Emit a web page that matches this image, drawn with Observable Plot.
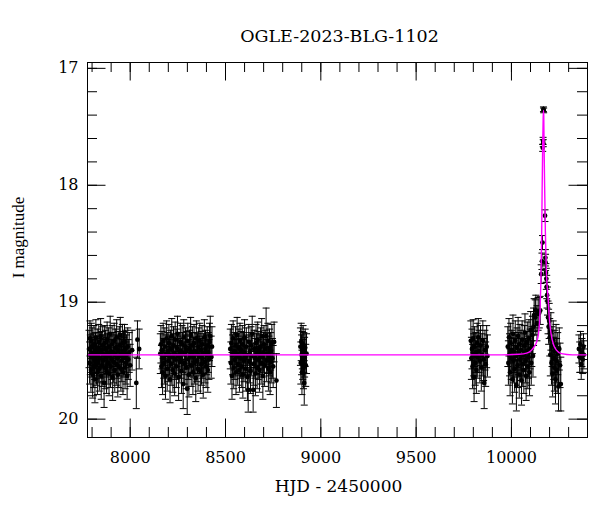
<!DOCTYPE html>
<html><head><meta charset="utf-8">
<script src="https://cdn.jsdelivr.net/npm/d3@7"></script>
<script src="https://cdn.jsdelivr.net/npm/@observablehq/plot@0.6"></script>
<style>html,body{margin:0;padding:0;background:#fff;}#chart{width:600px;height:512px;}</style>
</head><body><div id="chart"></div>
<script>
const title = "OGLE-2023-BLG-1102";
const xLabel = "HJD - 2450000";
const yLabel = "I magnitude";
const xTicks = [8000, 8500, 9000, 9500, 10000];
const yTicks = [17, 18, 19, 20];

// [HJD-2450000, I mag, error]
const season1 = [
[7784,19.40,0.16],[7787,19.52,0.18],[7789,19.31,0.15],[7791,19.45,0.17],[7794,19.58,0.19],[7796,19.33,0.15],
[7798,19.47,0.17],[7801,19.38,0.16],[7803,19.62,0.20],[7806,19.44,0.17],[7808,19.55,0.18],[7810,19.36,0.16],
[7813,19.49,0.17],[7815,19.66,0.20],[7818,19.42,0.16],[7820,19.30,0.15],[7823,19.53,0.18],[7825,19.46,0.17],
[7828,19.60,0.19],[7830,19.39,0.16],[7833,19.51,0.18],[7835,19.34,0.15],[7838,19.57,0.19],[7840,19.43,0.17],
[7843,19.48,0.17],[7845,19.29,0.15],[7848,19.63,0.20],[7850,19.41,0.16],[7853,19.54,0.18],[7856,19.37,0.16],
[7858,19.50,0.18],[7861,19.45,0.17],[7863,19.69,0.21],[7866,19.35,0.15],[7868,19.56,0.18],[7871,19.40,0.16],
[7874,19.47,0.17],[7876,19.59,0.19],[7879,19.32,0.15],[7881,19.44,0.17],[7884,19.52,0.18],[7887,19.38,0.16],
[7889,19.61,0.19],[7892,19.46,0.17],[7895,19.27,0.15],[7897,19.55,0.18],[7900,19.42,0.16],[7903,19.49,0.17],
[7905,19.36,0.16],[7908,19.64,0.20],[7911,19.43,0.17],[7913,19.51,0.18],[7916,19.33,0.15],[7919,19.58,0.19],
[7921,19.45,0.17],[7924,19.39,0.16],[7927,19.53,0.18],[7929,19.30,0.15],[7932,19.48,0.17],[7935,19.62,0.19],
[7937,19.41,0.16],[7940,19.55,0.18],[7943,19.37,0.16],[7946,19.46,0.17],[7948,19.28,0.15],[7951,19.57,0.19],
[7954,19.44,0.17],[7956,19.50,0.18],[7959,19.35,0.16],[7962,19.60,0.19],[7965,19.42,0.17],[7967,19.47,0.17],
[7970,19.34,0.15],[7973,19.56,0.18],[7976,19.40,0.16],[7978,19.52,0.18],[7981,19.45,0.17],[7984,19.63,0.20],
[7987,19.38,0.16],[7990,19.49,0.17],[7995,19.43,0.17],[8000,19.54,0.18],[8010,19.41,0.17],[8032,19.69,0.22],
[8038,19.32,0.16],[8047,19.40,0.17]
];
const season2 = [
[8158,19.44,0.17],[8161,19.36,0.16],[8164,19.55,0.18],[8167,19.41,0.16],[8170,19.60,0.19],[8173,19.33,0.15],
[8176,19.48,0.17],[8179,19.52,0.18],[8182,19.38,0.16],[8185,19.63,0.20],[8188,19.45,0.17],[8191,19.31,0.15],
[8194,19.57,0.19],[8197,19.42,0.16],[8200,19.50,0.18],[8203,19.35,0.16],[8206,19.46,0.17],[8209,19.66,0.20],
[8212,19.40,0.16],[8215,19.53,0.18],[8218,19.29,0.15],[8221,19.47,0.17],[8224,19.58,0.19],[8227,19.37,0.16],
[8230,19.44,0.17],[8233,19.61,0.19],[8236,19.32,0.15],[8239,19.49,0.17],[8242,19.55,0.18],[8245,19.39,0.16],
[8248,19.27,0.15],[8251,19.46,0.17],[8254,19.64,0.20],[8257,19.42,0.16],[8260,19.51,0.18],[8263,19.34,0.16],
[8266,19.48,0.17],[8269,19.59,0.19],[8272,19.36,0.16],[8275,19.43,0.17],[8278,19.70,0.21],[8281,19.30,0.15],
[8284,19.52,0.18],[8287,19.45,0.17],[8290,19.38,0.16],[8293,19.56,0.18],[8296,19.41,0.16],[8299,19.74,0.22],
[8302,19.33,0.15],[8305,19.49,0.17],[8308,19.62,0.19],[8311,19.40,0.16],[8314,19.46,0.17],[8317,19.28,0.15],
[8320,19.54,0.18],[8323,19.43,0.17],[8326,19.37,0.16],[8329,19.60,0.19],[8332,19.47,0.17],[8335,19.35,0.16],
[8338,19.52,0.18],[8341,19.42,0.16],[8344,19.65,0.20],[8347,19.31,0.15],[8350,19.50,0.18],[8353,19.44,0.17],
[8356,19.57,0.19],[8359,19.38,0.16],[8362,19.46,0.17],[8365,19.33,0.15],[8368,19.59,0.19],[8371,19.41,0.16],
[8374,19.53,0.18],[8377,19.36,0.16],[8380,19.48,0.17],[8383,19.62,0.20],[8386,19.44,0.17],[8389,19.30,0.15],
[8392,19.51,0.18],[8395,19.40,0.16],[8398,19.55,0.18],[8401,19.45,0.17],[8404,19.37,0.16],[8407,19.58,0.19],
[8410,19.43,0.17],[8413,19.49,0.17],[8416,19.34,0.16],[8420,19.29,0.17],[8425,19.47,0.18],[8429,19.38,0.17]
];
const season3 = [
[8525,19.40,0.17],[8528,19.52,0.18],[8531,19.35,0.16],[8534,19.63,0.20],[8537,19.45,0.17],[8540,19.31,0.15],
[8543,19.56,0.18],[8546,19.42,0.16],[8549,19.49,0.17],[8552,19.37,0.16],[8555,19.60,0.19],[8558,19.44,0.17],
[8561,19.28,0.15],[8564,19.53,0.18],[8567,19.46,0.17],[8570,19.39,0.16],[8573,19.58,0.19],[8576,19.33,0.15],
[8579,19.48,0.17],[8582,19.41,0.16],[8585,19.55,0.18],[8588,19.36,0.16],[8591,19.62,0.20],[8594,19.43,0.17],
[8597,19.50,0.18],[8600,19.30,0.15],[8603,19.47,0.17],[8606,19.57,0.19],[8609,19.38,0.16],[8612,19.45,0.17],
[8615,19.64,0.20],[8619,19.75,0.19],[8622,19.34,0.15],[8625,19.51,0.18],[8628,19.42,0.16],[8631,19.59,0.19],
[8634,19.37,0.16],[8637,19.46,0.17],[8640,19.27,0.15],[8645,19.75,0.19],[8648,19.53,0.18],[8651,19.40,0.16],
[8654,19.48,0.17],[8657,19.61,0.19],[8660,19.35,0.16],[8663,19.44,0.17],[8666,19.56,0.18],[8669,19.32,0.15],
[8672,19.49,0.17],[8675,19.41,0.16],[8678,19.58,0.19],[8681,19.45,0.17],[8684,19.38,0.16],[8687,19.52,0.18],
[8690,19.29,0.15],[8693,19.47,0.17],[8696,19.63,0.20],[8699,19.43,0.17],[8702,19.36,0.16],[8705,19.54,0.18],
[8708,19.40,0.16],[8713,19.29,0.24],[8716,19.50,0.18],[8719,19.44,0.17],[8722,19.33,0.15],[8725,19.57,0.19],
[8728,19.46,0.17],[8731,19.39,0.16],[8734,19.60,0.19],[8737,19.42,0.16],[8740,19.51,0.18],[8743,19.35,0.16],
[8746,19.48,0.17],[8750,19.55,0.18],[8755,19.34,0.17],[8767,19.67,0.23]
];
const season4 = [
[8893,19.38,0.16],[8895,19.52,0.18],[8897,19.34,0.16],[8899,19.45,0.17],[8901,19.60,0.19],[8903,19.41,0.16],
[8905,19.49,0.17],[8907,19.36,0.16],[8909,19.56,0.18],[8911,19.43,0.17],[8913,19.69,0.19],[8915,19.47,0.17],
[8918,19.39,0.16],[8921,19.54,0.18],[8925,19.44,0.17]
];
const season5 = [
[9787,19.33,0.17],[9790,19.48,0.18],[9793,19.40,0.17],[9796,19.55,0.19],[9799,19.31,0.16],[9802,19.45,0.18],
[9804,19.64,0.21],[9807,19.38,0.17],[9810,19.52,0.19],[9813,19.43,0.17],[9816,19.58,0.20],[9820,19.35,0.17],
[9823,19.47,0.18],[9826,19.30,0.16],[9830,19.42,0.18],[9834,19.50,0.19],[9838,19.37,0.17],[9842,19.56,0.20],
[9846,19.45,0.18],[9850,19.33,0.17],[9854,19.49,0.18],[9857,19.69,0.22],[9861,19.41,0.17],[9865,19.53,0.19],
[9870,19.38,0.18],[9874,19.46,0.18]
];
const season6 = [
[9981,19.38,0.17],[9984,19.52,0.19],[9987,19.30,0.16],[9990,19.45,0.18],[9993,19.60,0.20],[9996,19.35,0.17],
[9999,19.48,0.18],[10002,19.41,0.17],[10005,19.66,0.21],[10008,19.27,0.16],[10011,19.50,0.19],[10014,19.43,0.17],
[10017,19.57,0.20],[10020,19.33,0.17],[10023,19.46,0.18],[10026,19.71,0.22],[10029,19.39,0.17],[10032,19.54,0.19],
[10035,19.29,0.16],[10038,19.44,0.18],[10041,19.62,0.20],[10044,19.36,0.17],[10047,19.49,0.18],[10050,19.41,0.17],
[10053,19.67,0.21],[10056,19.32,0.16],[10059,19.53,0.19],[10062,19.45,0.18],[10065,19.58,0.20],[10068,19.37,0.17],
[10071,19.26,0.16],[10074,19.50,0.19],[10077,19.63,0.21],[10080,19.42,0.17],[10083,19.34,0.17],[10086,19.55,0.19],
[10089,19.47,0.18],[10092,19.31,0.16],[10095,19.60,0.20],[10098,19.40,0.17],[10101,19.24,0.16],[10104,19.52,0.19],
[10107,19.38,0.17],[10110,19.28,0.16],[10113,19.46,0.18],[10116,19.21,0.16],[10119,19.11,0.14],[10125,19.13,0.15],
[10128,19.07,0.13],[10134,19.18,0.15],[10140,19.10,0.14],[10146,19.09,0.13],[10151,19.07,0.12],[10156,18.76,0.08],
[10160,18.65,0.07],[10163,18.49,0.06],[10164,17.68,0.03],[10166,17.62,0.03],[10167,17.64,0.03],[10168,17.35,0.02],
[10169,17.36,0.02],[10176,18.26,0.05],[10178,18.62,0.07],[10179,18.66,0.07],[10181,18.75,0.08],[10183,18.80,0.09],
[10185,18.87,0.10],[10187,18.94,0.11],[10189,18.99,0.12],[10192,19.13,0.14],[10195,19.21,0.15],[10198,19.16,0.15],
[10201,19.30,0.16],[10204,19.45,0.18],[10207,19.25,0.16],[10210,19.52,0.19],[10213,19.38,0.17],[10216,19.61,0.20],
[10219,19.33,0.17],[10222,19.48,0.18],[10225,19.56,0.20],[10228,19.42,0.18],[10231,19.66,0.21],[10234,19.36,0.17],
[10237,19.50,0.19],[10240,19.58,0.20],[10243,19.44,0.18],[10247,19.72,0.21],[10251,19.40,0.18],[10255,19.54,0.19],
[10259,19.70,0.23]
];
const season7 = [
[10354,19.40,0.12],[10358,19.47,0.13],[10362,19.36,0.11],[10366,19.53,0.13],[10370,19.43,0.12],[10374,19.49,0.12],
[10378,19.38,0.11],[10380,19.45,0.12]
];
// model light curve [HJD-2450000, I mag]
const modelCurve = [
[7776,19.45],[9950,19.45],[10040,19.445],[10080,19.435],[10105,19.41],[10120,19.38],[10132,19.34],[10141,19.28],
[10146,19.20],[10150,19.08],[10154,18.85],[10158,18.50],[10161,18.05],[10164,17.65],[10166.5,17.42],[10168,17.36],
[10169.5,17.40],[10171,17.62],[10174,18.00],[10178,18.40],[10183,18.72],[10193,18.98],[10199,19.14],[10208,19.27],
[10220,19.36],[10236,19.41],[10262,19.44],[10320,19.45],[10399,19.45]
];

const obs = [...season1, ...season2, ...season3, ...season4, ...season5, ...season6, ...season7]
  .map(([t, m, e]) => ({t, m, e}));
const model = modelCurve.map(([t, m]) => ({t, m}));

const W = 600, H = 512, mt = 62, mb = 75, ml = 87, mr = 13;
const iw = W - ml - mr, ih = H - mt - mb;
const majorLen = 18.5, minorLen = 10;
const xMinor = d3.range(7800, 10400, 100);
const yMinor = d3.range(85, 101).map(k => k / 5);
const cap = {draw(ctx) { ctx.moveTo(-3.5, 0); ctx.lineTo(3.5, 0); }};
const serif = "'DejaVu Serif', serif";

const chart = Plot.plot({
  width: W, height: H,
  marginTop: mt, marginBottom: mb, marginLeft: ml, marginRight: mr,
  style: {fontFamily: serif, fontSize: "16px", color: "black", background: "white"},
  x: {domain: [7776, 10399]},
  y: {domain: [16.95, 20.157], reverse: true},
  marks: [
    Plot.ruleX(obs, {x: "t", y1: d => d.m - d.e, y2: d => d.m + d.e, stroke: "black", strokeWidth: 1}),
    Plot.dot(obs, {x: "t", y: d => d.m - d.e, symbol: cap, fill: "none", stroke: "black", strokeWidth: 1}),
    Plot.dot(obs, {x: "t", y: d => d.m + d.e, symbol: cap, fill: "none", stroke: "black", strokeWidth: 1}),
    Plot.dot(obs, {x: "t", y: "m", r: 2.4, fill: "black", stroke: "none"}),
    Plot.line(model, {x: "t", y: "m", stroke: "#ff00ff", strokeWidth: 1.4, curve: "monotone-x"}),
    Plot.frame({stroke: "black", strokeWidth: 1}),
    // inward ticks, all four sides
    Plot.ruleX(xTicks, {x: d => d, insetTop: ih - majorLen, stroke: "black"}),
    Plot.ruleX(xTicks, {x: d => d, insetBottom: ih - majorLen, stroke: "black"}),
    Plot.ruleX(xMinor, {x: d => d, insetTop: ih - minorLen, stroke: "black"}),
    Plot.ruleX(xMinor, {x: d => d, insetBottom: ih - minorLen, stroke: "black"}),
    Plot.ruleY(yTicks, {y: d => d, insetRight: iw - majorLen, stroke: "black"}),
    Plot.ruleY(yTicks, {y: d => d, insetLeft: iw - majorLen, stroke: "black"}),
    Plot.ruleY(yMinor, {y: d => d, insetRight: iw - minorLen, stroke: "black"}),
    Plot.ruleY(yMinor, {y: d => d, insetLeft: iw - minorLen, stroke: "black"}),
    Plot.axisX(xTicks, {anchor: "bottom", tickSize: 0, tickPadding: 14, label: null, tickFormat: "d", fontSize: 16}),
    Plot.axisY(yTicks, {anchor: "left", tickSize: 0, tickPadding: 9, label: null, tickFormat: "d", fontSize: 16}),
    Plot.text([title], {frameAnchor: "top", dx: 2, dy: -21, lineAnchor: "bottom", textAnchor: "middle", fontSize: 17.5, fill: "black"}),
    Plot.text([xLabel], {frameAnchor: "bottom", dx: 1, dy: 54, lineAnchor: "bottom", textAnchor: "middle", fontSize: 17, fill: "black"}),
    Plot.text([yLabel], {frameAnchor: "left", dx: -64, dy: -12.5, rotate: -90, lineAnchor: "bottom", textAnchor: "middle",
      fontSize: 17, fontFamily: "'Liberation Serif', serif", fill: "black"})
  ]
});
document.getElementById("chart").appendChild(chart);
</script>
</body></html>
